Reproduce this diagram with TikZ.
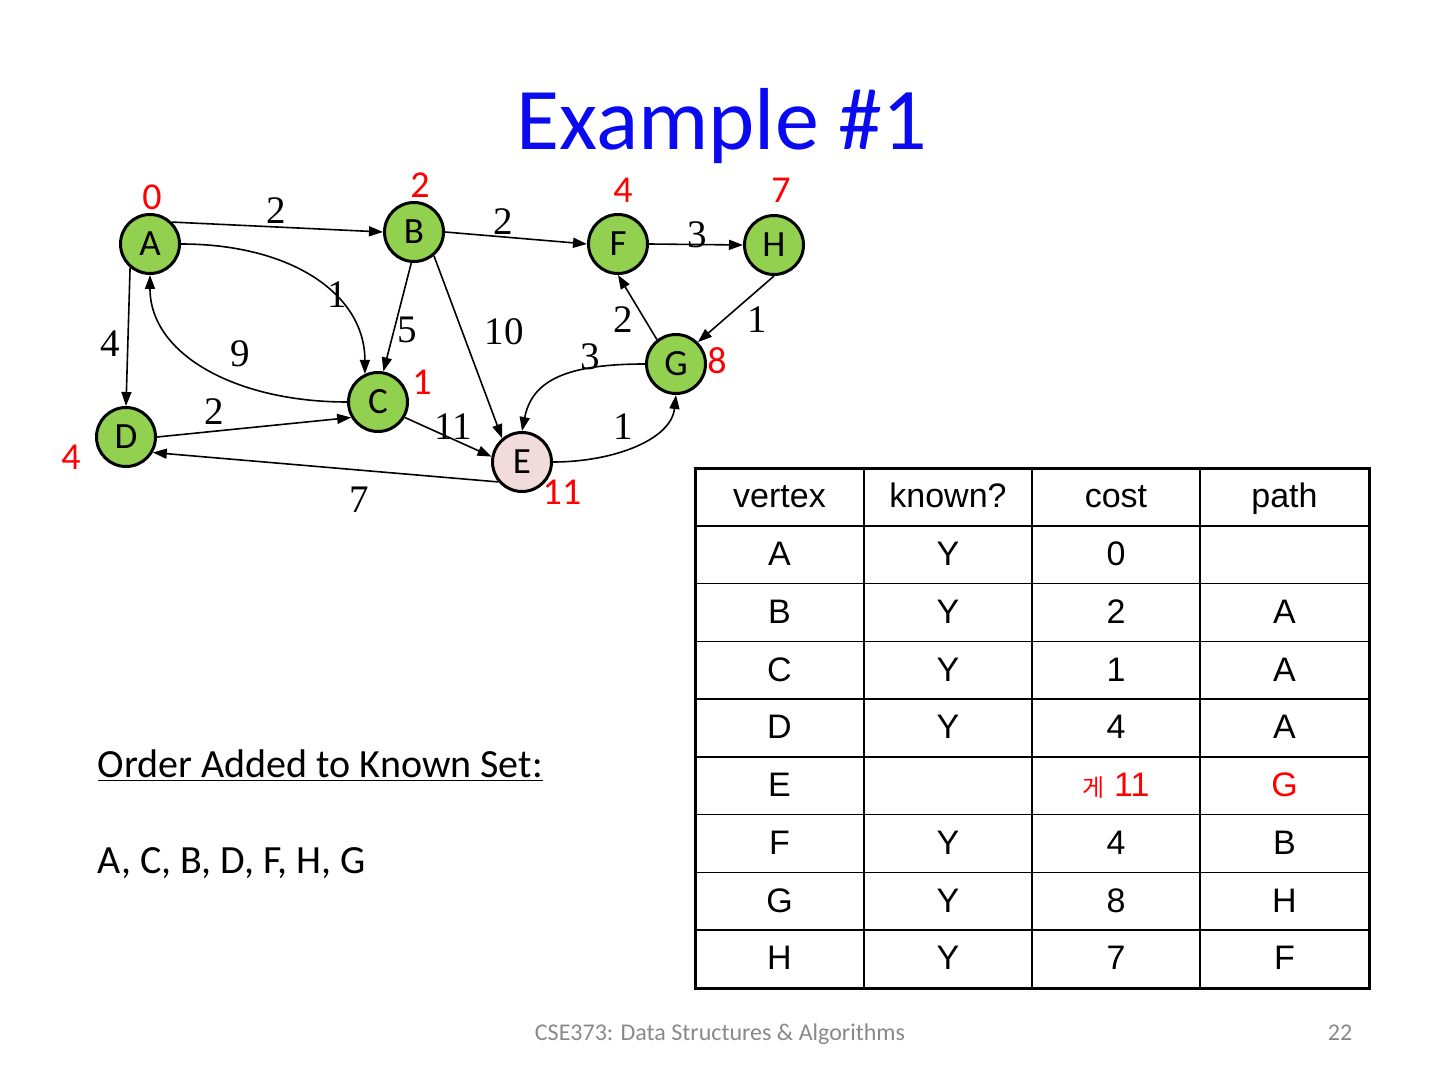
\documentclass[tikz,border=0pt]{standalone}
\usepackage{fontspec}
\setmainfont{Carlito}
\newfontfamily\timesfont{Liberation Serif}
\newfontfamily\arialfont{Liberation Sans}
\newfontfamily\krfont{Noto Sans CJK KR}
\usetikzlibrary{arrows.meta}
\tikzset{every picture/.style={line width=0.8pt}}
\definecolor{vgreen}{RGB}{146,208,80}
\definecolor{vpink}{RGB}{242,220,219}
\definecolor{costred}{RGB}{255,0,0}
\definecolor{titleblue}{RGB}{10,10,240}
\definecolor{footgray}{RGB}{137,137,137}

\begin{document}
\begin{tikzpicture}[x=0.5pt,y=0.5pt,yscale=-1,
  vertex/.style={circle,draw,line width=1.5pt,fill=vgreen,minimum size=29.5pt,inner sep=0pt,font=\fontsize{18.5}{18.5}\selectfont},
  edge/.style={-{Triangle[length=7pt,width=5pt]},line width=0.8pt},
  cost/.style={text=costred,anchor=base,inner sep=0pt,font=\fontsize{19}{19}\selectfont},
  weight/.style={anchor=base,inner sep=0pt,font=\timesfont\fontsize{19.5}{19.5}\selectfont},
  cell/.style={anchor=base,inner sep=0pt,font=\arialfont\fontsize{17}{17}\selectfont}]
\useasboundingbox (0,0) rectangle (1440,1080);

%Title
\node [anchor=base,inner sep=0pt,text=titleblue,font=\fontsize{44}{44}\selectfont] (title) at (722,150) {Example \#1};

%Shape: Circle [id:vA]
\node [vertex] (A) at (150,244) {A};
%Shape: Circle [id:vB]
\node [vertex] (B) at (414,232) {B};
%Shape: Circle [id:vF]
\node [vertex] (F) at (618,244) {F};
%Shape: Circle [id:vH]
\node [vertex] (H) at (774,245) {H};
%Shape: Circle [id:vG]
\node [vertex] (G) at (676,364) {G};
%Shape: Circle [id:vC]
\node [vertex] (C) at (378,402) {C};
%Shape: Circle [id:vD]
\node [vertex] (D) at (126,437) {D};
%Shape: Circle [id:vE]
\node [vertex,fill=vpink] (E) at (522,462) {E};

%Straight Lines [id:eAB]
\draw [edge] (A.45) -- (B.west);
%Straight Lines [id:eBF]
\draw [edge] (B.east) -- (F.west);
%Straight Lines [id:eFH]
\draw [edge] (F.east) -- (H.west);
%Curve Lines [id:eAC]
\draw [edge] (A.east) .. controls +(110,0) and +(0,-80) .. (C.115);
%Curve Lines [id:eCA]
\draw [edge] (C.west) .. controls +(-110,0) and +(0,80) .. (A.south);
%Straight Lines [id:eAD]
\draw [edge] (A.-130) -- (D.north);
%Straight Lines [id:eBC]
\draw [edge] (B.-95) -- (C.80);
%Straight Lines [id:eBE]
\draw [edge] (B.-50) -- (E.130);
%Straight Lines [id:eHG]
\draw [edge] (H.south) -- (G.45);
%Straight Lines [id:eGF]
\draw [edge] (G.128) -- (F.south);
%Curve Lines [id:eGE]
\draw [edge] (G.west) .. controls +(-80,0) and +(10,-50) .. (E.north);
%Curve Lines [id:eEG]
\draw [edge] (E.east) .. controls +(60,0) and +(-5,45) .. (G.south);
%Straight Lines [id:eDC]
\draw [edge] (D.east) -- (C.-150);
%Straight Lines [id:eCE]
\draw [edge] (C.-30) -- (E.170);
%Straight Lines [id:eED]
\draw [edge] (E.-140) -- (D.-30);

%Edge weights
\node [weight] (wAB) at (276,224) {2};
\node [weight] (wBF) at (503,235) {2};
\node [weight] (wFH) at (697,248) {3};
\node [weight] (wAC) at (337,308) {1};
\node [weight] (wBC) at (407,343) {5};
\node [weight] (wBE) at (504,345) {10};
\node [weight] (wGF) at (623,333) {2};
\node [weight] (wHG) at (757,333) {1};
\node [weight] (wAD) at (110,357) {4};
\node [weight] (wCA) at (240,367) {9};
\node [weight] (wGE) at (590,370) {3};
\node [weight] (wDC) at (214,424) {2};
\node [weight] (wCE) at (453,440) {11};
\node [weight] (wEG) at (623,440) {1};
\node [weight] (wED) at (359,512) {7};

%Costs
\node [cost] (cA) at (152,210) {0};
\node [cost] (cB) at (420,198) {2};
\node [cost] (cF) at (623,203) {4};
\node [cost] (cH) at (781,203) {7};
\node [cost] (cG) at (717,374) {8};
\node [cost] (cC) at (422,395) {1};
\node [cost] (cD) at (71,470) {4};
\node [cost] (cE) at (562,504) {11};

%Order text
\node [anchor=base west,inner sep=0pt,font=\fontsize{20}{20}\selectfont] (order) at (97,777) {\underline{Order Added to Known Set:}};
\node [anchor=base west,inner sep=0pt,font=\fontsize{20}{20}\selectfont] (orderlist) at (97,873) {A, C, B, D, F, H, G};

%Table
\foreach \v/\k/\c/\p [count=\i from 0] in {vertex/known?/cost/path, A/Y/0/, B/Y/2/A, C/Y/1/A, D/Y/4/A,
   E//{\textcolor{costred}{{\krfont\fontsize{12}{12}\selectfont 게} 11}}/{\textcolor{costred}{G}},
   F/Y/4/B, G/Y/8/H, H/Y/7/F} {
  \pgfmathsetmacro{\ry}{468+57.75*(\i+0.5)+11}
  \node [cell] (v\i) at (779.5,\ry) {\v};
  \node [cell] (k\i) at (948,\ry) {\k};
  \node [cell] (c\i) at (1116,\ry) {\c};
  \node [cell] (p\i) at (1284.5,\ry) {\p};
}
\foreach \i in {1,...,8}
  \draw [line width=0.75pt] (695,{468+57.75*\i}) -- (1369,{468+57.75*\i});
\foreach \xx in {864,1032,1200}
  \draw [line width=0.75pt] (\xx,468) -- (\xx,988);
\draw [line width=1.5pt] (695,468) rectangle (1369,988);

%Footer
\node [anchor=base,inner sep=0pt,text=footgray,font=\fontsize{12}{12}\selectfont] (footer) at (720,1040) {CSE373: Data Structures \& Algorithms};
\node [anchor=base east,inner sep=0pt,text=footgray,font=\fontsize{12}{12}\selectfont] (pagenum) at (1353,1040) {22};

\end{tikzpicture}
\end{document}
